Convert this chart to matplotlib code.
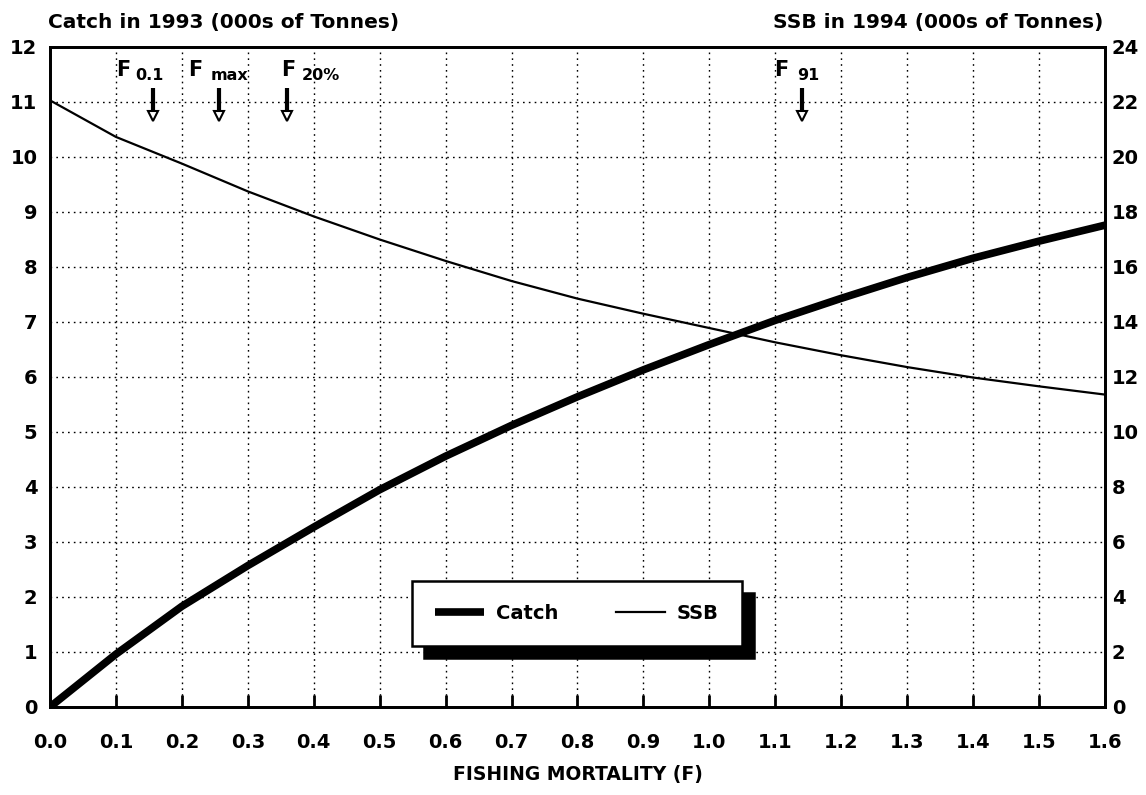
import matplotlib
matplotlib.use("Agg")
from matplotlib import pyplot as plt
from matplotlib.ticker import MultipleLocator

# values
fishing_mortality = [0.0, 0.1, 0.2, 0.3, 0.4, 0.5, 0.6, 0.7, 0.8,
                     0.9, 1.0, 1.1, 1.2, 1.3, 1.4, 1.5, 1.6]
catch_1993 = [0.0, 0.96, 1.83, 2.57, 3.27, 3.95, 4.56, 5.12, 5.64,
              6.13, 6.59, 7.03, 7.43, 7.81, 8.16, 8.47, 8.76]
ssb_1994 = [22.06, 20.73, 19.76, 18.75, 17.84, 17.00, 16.22, 15.49, 14.85,
            14.30, 13.78, 13.26, 12.79, 12.36, 11.98, 11.66, 11.36]

ref_names = ["0.1", "max", "20%", "91"]
ref_f = [0.156, 0.256, 0.359, 1.140]
ref_label_f = [0.100, 0.210, 0.350, 1.099]
ref_sub_f = [0.129, 0.243, 0.382, 1.133]

bold = dict(fontweight="bold", family="DejaVu Sans")

fig = plt.figure(figsize=(11.46, 7.95), dpi=100)
ax = fig.add_axes([0.0436, 0.1107, 0.9206, 0.8302])
ax2 = ax.twinx()

line_catch, = ax.plot(fishing_mortality, catch_1993, color="black", lw=5.5,
                      solid_capstyle="butt", label="Catch")
line_ssb, = ax2.plot(fishing_mortality, ssb_1994, color="black", lw=1.6,
                     label="SSB")

ax.set_xlim(0, 1.6)
ax.set_ylim(0, 12)
ax2.set_ylim(0, 24)
ax.xaxis.set_major_locator(MultipleLocator(0.1))
ax.yaxis.set_major_locator(MultipleLocator(1))
ax2.yaxis.set_major_locator(MultipleLocator(2))
ax.set_xticklabels([f"{v:.1f}" for v in ax.get_xticks()])

ax.grid(True, color="black", linestyle=(0, (1.2, 3.0)), linewidth=1.0)
ax.set_axisbelow(True)

ax.tick_params(axis="x", direction="in", length=9, width=2, pad=19,
               labelsize=14)
ax.tick_params(axis="y", length=0, pad=9, labelsize=14)
ax2.tick_params(axis="y", length=0, pad=5, labelsize=14)
for lab in ax.get_xticklabels() + ax.get_yticklabels() + ax2.get_yticklabels():
    lab.set_fontweight("bold")

for a in (ax, ax2):
    for sp in a.spines.values():
        sp.set_linewidth(2)
        sp.set_color("black")

ax.set_xlabel("FISHING MORTALITY (F)", fontsize=13.5, labelpad=9, **bold)

fig.text(0.042, 0.972, "Catch in 1993 (000s of Tonnes)", ha="left",
         va="center", fontsize=14.5, **bold)
fig.text(0.963, 0.972, "SSB in 1994 (000s of Tonnes)", ha="right",
         va="center", fontsize=14.5, **bold)

# reference point markers with arrows
for name, fx, lx, sx in zip(ref_names, ref_f, ref_label_f, ref_sub_f):
    ax.text(lx, 11.47, "F", fontsize=15, va="baseline", ha="left", **bold)
    ax.text(sx, 11.40, name, fontsize=11.5, va="baseline", ha="left", **bold)
    ax.plot([fx, fx], [11.26, 10.80], color="black", lw=3,
            solid_capstyle="butt")
    ax.plot(fx, 10.74, marker="v", ms=6.5, mfc="white", mec="black", mew=1.5)

leg = ax2.legend([line_catch, line_ssb], ["Catch", "SSB"], loc="center",
                 bbox_to_anchor=(0.4995, 0.1415), ncol=2, frameon=True,
                 fancybox=False, framealpha=1, edgecolor="black",
                 handlelength=2.5, handletextpad=0.6, columnspacing=3.0,
                 borderpad=1.2,
                 shadow={"ox": 8.6, "oy": -8.6, "facecolor": "black",
                         "edgecolor": "black", "alpha": 1},
                 prop={"weight": "bold", "size": 14, "family": "DejaVu Sans"})
leg.get_frame().set_linewidth(1.8)

fig.savefig("out.png", dpi=100)
